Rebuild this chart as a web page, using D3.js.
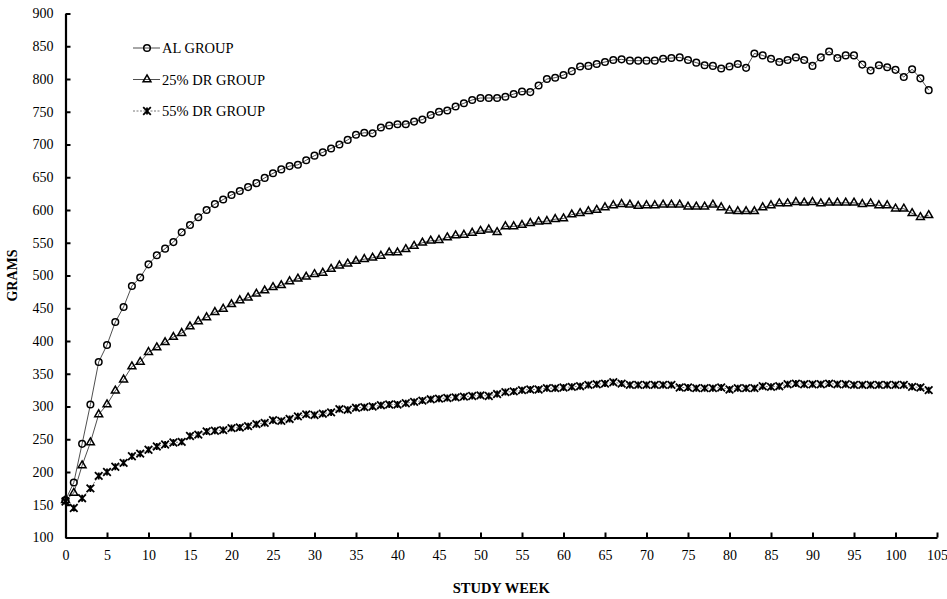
<!DOCTYPE html>
<html>
<head>
<meta charset="utf-8">
<script src="https://cdn.jsdelivr.net/npm/d3@7"></script>
<style>
  body { margin: 0; background: #fff; }
  svg { display: block; font-family: "Liberation Serif", "Times New Roman", serif; }
</style>
</head>
<body>
<svg id="chart"></svg>
<script>
// weeks 0..104
const weeks = d3.range(0, 105);

const alGroup = [157, 184, 243, 303, 368, 394, 429, 452, 484, 497,
  517, 531, 541, 551, 566, 577, 589, 600, 609, 616,
  623, 629, 635, 641, 649, 656, 662, 667, 669, 676,
  683, 688, 694, 700, 707, 715, 718, 717, 726, 729,
  731, 731, 735, 738, 745, 750, 752, 758, 763, 768,
  771, 771, 771, 773, 777, 781, 780, 790, 800, 802,
  806, 812, 819, 820, 823, 826, 829, 830, 828, 828,
  828, 828, 831, 832, 833, 829, 825, 821, 820, 816,
  819, 823, 817, 839, 836, 831, 826, 829, 833, 829,
  820, 833, 842, 832, 836, 836, 822, 813, 821, 818,
  814, 803, 815, 801, 783];

const dr25Group = [157, 168, 210, 245, 288, 303, 324, 341, 361, 368,
  383, 390, 398, 406, 412, 422, 430, 436, 444, 449,
  456, 462, 466, 472, 477, 482, 485, 491, 495, 498,
  502, 504, 510, 515, 518, 522, 525, 527, 530, 535,
  535, 540, 545, 550, 553, 554, 558, 561, 562, 565,
  568, 570, 566, 575, 575, 577, 580, 582, 583, 586,
  587, 593, 595, 598, 600, 604, 607, 609, 608, 606,
  607, 607, 608, 608, 608, 605, 605, 605, 608, 604,
  599, 598, 598, 598, 604, 607, 610, 610, 612, 611,
  612, 610, 611, 611, 611, 611, 609, 610, 607, 607,
  602, 602, 595, 589, 592];

const dr55Group = [155, 145, 160, 175, 194, 200, 208, 214, 224, 228,
  234, 239, 242, 245, 246, 255, 257, 262, 263, 264,
  267, 268, 270, 273, 275, 279, 278, 281, 285, 288,
  287, 289, 291, 296, 295, 298, 299, 300, 302, 303,
  303, 305, 307, 309, 311, 312, 313, 314, 315, 316,
  317, 316, 319, 322, 323, 325, 326, 326, 328, 328,
  329, 330, 331, 333, 334, 335, 337, 335, 333, 333,
  333, 333, 333, 333, 329, 329, 328, 328, 328, 329,
  326, 328, 328, 328, 331, 330, 331, 334, 335, 334,
  334, 334, 335, 334, 334, 333, 333, 333, 333, 333,
  333, 333, 330, 329, 325];

const seriesNames = ["AL GROUP", "25% DR GROUP", "55% DR GROUP"];
const xTicks = d3.range(0, 106, 5);
const yTicks = d3.range(100, 901, 50);

const W = 947, H = 599;
const margin = { top: 13.5, right: 10, bottom: 61.5, left: 65.5 };
const width = W - margin.left - margin.right,
      height = H - margin.top - margin.bottom;

const svg = d3.select("#chart").attr("width", W).attr("height", H);
const g = svg.append("g").attr("transform", `translate(${margin.left},${margin.top})`);

const x = d3.scaleLinear().domain([0, 105]).range([0, width]);
const y = d3.scaleLinear().domain([100, 900]).range([height, 0]);

// axes, ticks pointing inward
const xAxis = g.append("g")
  .attr("transform", `translate(0,${height})`)
  .call(d3.axisBottom(x).tickValues(xTicks).tickSizeInner(-5).tickSizeOuter(0).tickPadding(13));
const yAxis = g.append("g")
  .call(d3.axisLeft(y).tickValues(yTicks).tickSizeInner(-5).tickSizeOuter(0).tickPadding(12));

[xAxis, yAxis].forEach(a => {
  a.select(".domain").attr("stroke", "#000").attr("stroke-width", 2.2);
  a.selectAll(".tick line").attr("stroke", "#000").attr("stroke-width", 2);
  a.selectAll(".tick text").attr("font-family", "Liberation Serif").attr("font-size", 14).attr("fill", "#000");
});

// axis titles
svg.append("text")
  .attr("x", margin.left + width / 2)
  .attr("y", 593)
  .attr("text-anchor", "middle")
  .attr("font-weight", "bold")
  .attr("font-size", 14.5)
  .text("STUDY WEEK");

svg.append("text")
  .attr("transform", `translate(17,${margin.top + height / 2}) rotate(-90)`)
  .attr("text-anchor", "middle")
  .attr("font-weight", "bold")
  .attr("font-size", 14)
  .text("GRAMS");

// markers
const starPath = "M-3.8,-3.8L3.8,3.8M-3.8,3.8L3.8,-3.8M0,-3.5L0,3.5";
function drawMarker(sel, kind) {
  if (kind === 0) {
    sel.append("circle").attr("r", 3.3).attr("fill", "none").attr("stroke", "#000").attr("stroke-width", 1.5);
  } else if (kind === 1) {
    sel.append("path").attr("d", d3.symbol(d3.symbolTriangle, 27)())
      .attr("fill", "none").attr("stroke", "#000").attr("stroke-width", 1.5);
  } else {
    sel.append("path").attr("d", starPath).attr("fill", "none").attr("stroke", "#000").attr("stroke-width", 1.8);
  }
}

const allSeries = [alGroup, dr25Group, dr55Group];
const line = d3.line().x((d, i) => x(weeks[i])).y(d => y(d));

allSeries.forEach((vals, k) => {
  g.append("path")
    .datum(vals)
    .attr("fill", "none")
    .attr("stroke", k === 2 ? "#555" : "#222")
    .attr("stroke-width", 0.8)
    .attr("stroke-dasharray", k === 2 ? "2,1.5" : null)
    .attr("d", line);

  g.append("g").selectAll("g")
    .data(vals)
    .join("g")
    .attr("transform", (d, i) => `translate(${x(weeks[i])},${y(d)})`)
    .each(function () { drawMarker(d3.select(this), k); });
});

// legend
const legend = svg.append("g").attr("transform", "translate(133,48)");
seriesNames.forEach((name, k) => {
  const row = legend.append("g").attr("transform", `translate(0,${k * 31.5})`);
  row.append("line")
    .attr("x1", 0).attr("x2", 27)
    .attr("stroke", k === 2 ? "#555" : "#222")
    .attr("stroke-width", 0.8)
    .attr("stroke-dasharray", k === 2 ? "2,1.5" : null);
  const m = row.append("g").attr("transform", "translate(14,0)");
  drawMarker(m, k);
  row.append("text")
    .attr("x", 29).attr("y", 5)
    .attr("font-size", 14.5)
    .text(name);
});
</script>
</body>
</html>
